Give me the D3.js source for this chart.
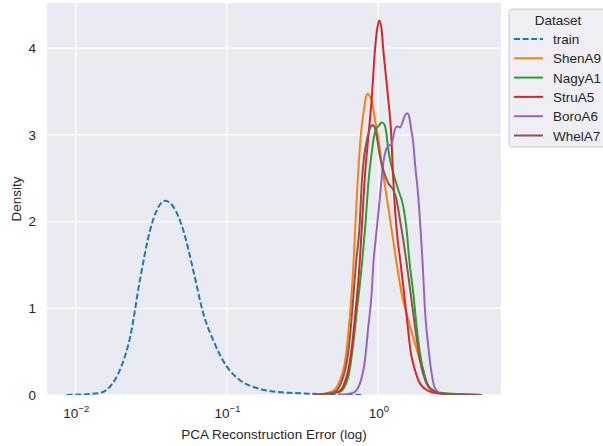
<!DOCTYPE html>
<html>
<head>
<meta charset="utf-8">
<script src="https://cdn.jsdelivr.net/npm/d3@7"></script>
<style>
  body { margin: 0; background: white; }
  text { font-family: "Liberation Sans", Arial, sans-serif; fill: #262626; }
</style>
</head>
<body>
<div id="Canvas"></div>
<script>
// x = reconstruction error, y = density
let trainErr = [0.0087,0.0141,0.0169,0.0196,0.0229,0.0266,0.0310,0.0343,0.0389,0.0442,0.0514,0.0598,0.0697,0.0811,0.0995,0.1219,0.157,0.2023,0.3034,0.5585,0.794]
let trainDen = [0,0.02,0.10,0.29,0.67,1.33,1.90,2.13,2.24,2.17,1.90,1.44,0.94,0.63,0.33,0.17,0.08,0.04,0.02,0.005,0]

let shenErr = [0.372,0.4916,0.5871,0.6335,0.6836,0.7192,0.7682,0.8041,0.8289,0.8545,0.8809,0.9081,0.9505,0.9849,1.052,1.135,1.225,1.322,1.426,1.579,1.747,1.934,2.086,2.309,2.689,3.465]
let shenDen = [0,0.038,0.288,0.712,1.481,2.25,3.019,3.288,3.435,3.473,3.442,3.385,3.173,3.038,2.673,2.288,1.904,1.519,1.173,0.865,0.596,0.327,0.135,0.038,0.012,0]

let nagyErr = [0.372,0.5581,0.6335,0.6836,0.7228,0.78,0.8164,0.8632,0.9035,0.9362,0.9651,1.0051,1.052,1.09,1.1237,1.1643,1.2564,1.3557,1.4628,1.539,1.6027,1.7033,1.792,1.8852,2.0342,2.195,2.5555,4.818]
let nagyDen = [0,0.038,0.212,0.596,0.981,1.519,1.904,2.481,2.788,2.981,3.065,3.104,3.142,3.127,3.050,2.827,2.558,2.365,2.173,1.904,1.558,1.173,0.788,0.481,0.212,0.077,0.027,0]

let struErr = [0.372,0.5441,0.6177,0.6733,0.7083,0.7528,0.776,0.8122,0.8676,0.9035,0.9505,0.9849,1.0153,1.052,1.079,1.1237,1.1643,1.2125,1.2564,1.3217,1.4047,1.5234,1.6439,1.7471,1.838,2.0864,2.4292,4.818]
let struDen = [0,0.038,0.212,0.596,0.981,1.519,1.904,2.481,3.058,3.404,3.981,4.231,4.319,4.212,3.981,3.673,3.404,3.058,2.481,1.904,1.519,0.981,0.481,0.288,0.173,0.058,0.019,0]

let boroErr = [0.5581,0.6836,0.7566,0.8164,0.8589,0.9035,0.9267,0.975,1.0257,1.079,1.1352,1.1822,1.2249,1.2692,1.3084,1.3488,1.3905,1.4628,1.508,1.5547,1.6027,1.6522,1.7033,1.7471,1.838,1.9044,1.9632,2.0342,2.14,2.2513,2.3684,2.6212,4.818]
let boroDen = [0,0.027,0.135,0.404,0.788,1.173,1.5,1.904,2.288,2.673,2.846,2.877,2.896,3.019,3.088,3.096,3.085,3.173,3.231,3.25,3.204,3.058,2.904,2.673,2.288,1.904,1.519,0.981,0.558,0.25,0.077,0.012,0]

let whelErr = [0.372,0.5042,0.5871,0.6432,0.6733,0.7119,0.749,0.78,0.8502,0.8809,0.9174,0.9505,0.9849,1.0257,1.079,1.1643,1.2564,1.3217,1.3905,1.4628,1.539,1.6356,1.7471,1.8852,2.0864,2.3684,2.8284,4.818]
let whelDen = [0,0.027,0.212,0.596,0.981,1.519,1.904,2.481,2.981,3.077,3.115,3.077,2.942,2.75,2.596,2.442,2.365,2.25,2.019,1.788,1.519,1.173,0.788,0.404,0.135,0.038,0.008,0]

let names = ["train","ShenA9","NagyA1","StruA5","BoroA6","WhelA7"]
let colors = ["#1f77b4","#ff7f0e","#2ca02c","#d62728","#9467bd","#8c564b"]
let allErr = [trainErr,shenErr,nagyErr,struErr,boroErr,whelErr]
let allDen = [trainDen,shenDen,nagyDen,struDen,boroDen,whelDen]

let xTicks = [0.01,0.1,1]
let xTickLabels = ["\u22122","\u22121","0"]
let yTicks = [0,1,2,3,4]

let svg = d3.select("#Canvas")
    .append("svg")
    .attr("width", 603)
    .attr("height", 446)
    .style("background", "white")

// plot area  x: 47~501  y: 3~395
let X_Scale = d3.scaleLog()
    .domain([Math.pow(10,-2.19), Math.pow(10,0.811)])
    .range([47,501])
let Y_Scale = d3.scaleLinear()
    .domain([0,4.521])
    .range([395,3])

svg.append("rect")
    .attr("x",47).attr("y",3)
    .attr("width",454).attr("height",392)
    .style("fill","#eaeaf2")

svg.append("clipPath").attr("id","plotClip")
    .append("rect")
    .attr("x",47).attr("y",3)
    .attr("width",454).attr("height",392)

// grid
svg.append("g").selectAll("line")
    .data(xTicks).enter()
    .append("line")
    .attr("x1",(d)=>X_Scale(d)).attr("x2",(d)=>X_Scale(d))
    .attr("y1",3).attr("y2",395)
    .style("stroke","white").style("stroke-width","1.2px")
svg.append("g").selectAll("line")
    .data(yTicks).enter()
    .append("line")
    .attr("x1",47).attr("x2",501)
    .attr("y1",(d)=>Y_Scale(d)).attr("y2",(d)=>Y_Scale(d))
    .style("stroke","white").style("stroke-width","1.2px")

// axes, labels only
let X_axis = d3.axisBottom(X_Scale).tickValues(xTicks).tickSize(0).tickFormat("")
let xg = svg.append("g").attr("transform","translate(0,395)").call(X_axis)
xg.select(".domain").remove()
xg.selectAll(".tick").append("text")
    .attr("y",23).attr("text-anchor","middle")
    .style("font-size","13.5px")
    .each(function(d,i){
        let t = d3.select(this)
        t.append("tspan").text("10")
        t.append("tspan").attr("dy",-6).style("font-size","9.5px").text(xTickLabels[i])
    })

let Y_axis = d3.axisLeft(Y_Scale).tickValues(yTicks).tickSize(0).tickPadding(11).tickFormat(d3.format("d"))
let yg = svg.append("g").attr("transform","translate(47,0)").call(Y_axis)
yg.select(".domain").remove()
yg.selectAll("text").style("font-size","13.5px").style("fill","#262626")
    .style("font-family","Liberation Sans, Arial, sans-serif")

svg.append("text")
    .attr("x",274).attr("y",439)
    .attr("text-anchor","middle")
    .style("font-size","13.5px")
    .text("PCA Reconstruction Error (log)")
svg.append("text")
    .attr("transform","translate(21,199) rotate(-90)")
    .attr("text-anchor","middle")
    .style("font-size","13.5px")
    .text("Density")

// density lines
let line = d3.line()
    .x((d)=>X_Scale(d[0]))
    .y((d)=>Y_Scale(d[1]))
    .curve(d3.curveMonotoneX)

let lines = svg.append("g").attr("clip-path","url(#plotClip)")
for(var i = 0 ; i < names.length ; i++){
    let pts = allErr[i].map((e,j)=>[e,allDen[i][j]])
    lines.append("path")
        .attr("d",line(pts))
        .attr("fill","none")
        .attr("stroke",colors[i])
        .attr("stroke-width",2)
        .attr("stroke-dasharray", i == 0 ? "6,2.6" : null)
}

// legend
let lg = svg.append("g").attr("transform","translate(509,9)")
lg.append("rect")
    .attr("width",100).attr("height",138)
    .attr("rx",3)
    .style("fill","#eeeef4")
    .style("stroke","#cccccc")
lg.append("text")
    .attr("x",49).attr("y",16)
    .attr("text-anchor","middle")
    .style("font-size","13.5px")
    .text("Dataset")
let items = lg.selectAll(".item")
    .data(names).enter()
    .append("g")
    .attr("transform",(d,i)=>"translate(0," + (30 + i*19.3) + ")")
items.append("line")
    .attr("x1",5).attr("x2",34)
    .attr("stroke",(d,i)=>colors[i])
    .attr("stroke-width",2)
    .attr("stroke-dasharray",(d,i)=> i == 0 ? "6,2.6" : null)
items.append("text")
    .attr("x",44).attr("y",5)
    .style("font-size","13.5px")
    .text((d)=>d)
</script>
</body>
</html>
